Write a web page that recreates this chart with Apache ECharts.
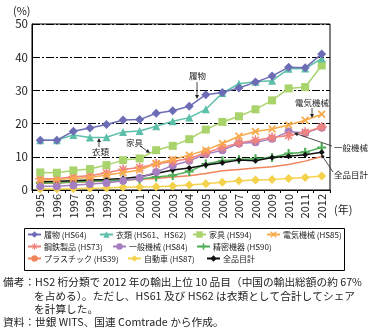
<!DOCTYPE html>
<html><head><meta charset="utf-8">
<script src="https://cdn.jsdelivr.net/npm/echarts@6/dist/echarts.min.js"></script>
<style>html,body{margin:0;padding:0;background:#fff}#c{width:369px;height:330px}</style>
</head><body><div id="c"></div>
<script>
const years = ['1995','1996','1997','1998','1999','2000','2001','2002','2003','2004','2005','2006','2007','2008','2009','2010','2011','2012'];
const footwear   = [15.0,15.0,17.7,18.7,19.7,21.1,21.2,23.1,23.9,25.2,28.7,29.4,30.7,32.5,34.3,37.0,36.8,41.0];
const apparel    = [15.0,15.0,16.6,15.8,15.9,17.5,17.8,19.2,20.7,21.8,24.3,29.2,32.0,32.6,32.9,36.5,36.6,39.6];
const furniture  = [5.3,5.2,5.9,6.3,7.5,9.0,9.5,12.0,13.3,15.3,18.2,20.5,22.2,24.3,27.0,30.6,31.0,37.5];
const electric   = [3.0,3.2,3.5,3.8,4.5,5.2,6.0,8.0,9.2,10.5,12.0,14.0,16.2,17.6,18.4,19.6,21.0,22.8];
const steel      = [3.4,3.4,4.0,4.3,5.2,6.2,6.8,7.8,8.6,9.5,11.2,12.8,14.2,15.0,15.8,16.4,17.4,19.0];
const machinery  = [1.1,1.1,1.4,1.8,2.1,2.8,3.6,5.4,7.4,8.8,10.8,12.0,14.0,14.4,15.4,17.6,17.2,18.8];
const precision  = [2.1,2.2,2.4,2.6,2.8,3.0,3.3,3.9,4.4,5.6,7.8,8.8,9.2,9.4,9.8,11.0,11.4,12.8];
const plastics   = [2.0,2.1,2.3,2.5,2.7,2.9,3.2,3.5,3.9,4.3,5.0,5.8,6.2,6.6,7.0,7.7,8.7,10.1];
const autos      = [0.3,0.3,0.4,0.5,0.6,0.8,0.9,1.0,1.2,1.5,1.9,2.3,2.8,3.0,3.2,3.5,3.8,4.2];
const total      = [2.5,2.6,2.8,3.0,3.2,3.5,4.0,5.0,6.0,6.6,7.5,8.2,9.0,8.8,9.8,10.2,10.6,11.4];
const yTicks = [0,10,20,30,40,50];
const names = ['履物 (HS64)','衣類 (HS61、HS62)','家具 (HS94)','電気機械 (HS85)','鋼鉄製品 (HS73)','一般機械 (HS84)','精密機器 (HS90)','プラスチック (HS39)','自動車 (HS87)','全品目計'];

const FONT = '"Noto Sans CJK JP", "Noto Sans", sans-serif';
const SYM_X = 'path://M0,1.5L1.5,0L5,3.5L8.5,0L10,1.5L6.5,5L10,8.5L8.5,10L5,6.5L1.5,10L0,8.5L3.5,5Z';
const SYM_PLUS = 'path://M3.8,0H6.2V3.8H10V6.2H6.2V10H3.8V6.2H0V3.8H3.8Z';
const SYM_AST = 'path://M4.2,0H5.8V10H4.2Z M0,4.2H10V5.8H0Z M1,2.1L2.1,1L9,7.9L7.9,9Z M7.9,1L9,2.1L2.1,9L1,7.9Z';

function mk(name, data, color, symbol, size, z) {
  return {
    name, type: 'line', data, symbol, symbolSize: size, showSymbol: symbol !== 'none',
    z: z || 2,
    lineStyle: {color, width: 1.5},
    itemStyle: {color},
    emphasis: {disabled: true}, animation: false
  };
}
const series = [
  mk(names[7], plastics, '#f0845a', 'none', 0, 2),
  mk(names[8], autos, '#f5d24e', 'diamond', 9, 3),
  mk(names[6], precision, '#4fae57', SYM_PLUS, 9, 4),
  mk(names[9], total, '#111111', 'diamond', 6, 5),
  mk(names[5], machinery, '#a47ec0', 'circle', 8, 6),
  mk(names[4], steel, '#f2847e', SYM_AST, 10, 7),
  mk(names[3], electric, '#f7aa4a', SYM_X, 8, 8),
  mk(names[2], furniture, '#a9d36b', 'rect', 8, 9),
  mk(names[1], apparel, '#5cbfa9', 'triangle', 8, 10),
  mk(names[0], footwear, '#6d6db6', 'diamond', 9, 11)
];

const legPos = [
  [27,230.5],[99,230.5],[192,230.5],[266,230.5],
  [27,242.5],[112,242.5],[196,242.5],
  [27,254.5],[127,254.5],[206,254.5]
];
const legends = names.map((n,i)=>({
  data:[n], left: legPos[i][0], top: legPos[i][1], padding:0,
  itemWidth: 13, itemHeight: 8, itemGap: 0,
  textStyle:{fontSize:8, fontFamily:FONT, color:'#222', padding:[0,0,0,-2]},
  selectedMode:false
}));

function arrow(x1,y1,x2,y2){
  const a = Math.atan2(y2-y1,x2-x1), L=4, W=2;
  const bx = x2 - L*Math.cos(a), by = y2 - L*Math.sin(a);
  const px = -Math.sin(a)*W, py = Math.cos(a)*W;
  return [
    {type:'line', shape:{x1,y1,x2:bx,y2:by}, style:{stroke:'#222', lineWidth:0.8}, z:20},
    {type:'polygon', shape:{points:[[x2,y2],[bx+px,by+py],[bx-px,by-py]]}, style:{fill:'#222'}, z:20}
  ];
}
function txt(x,y,t,size){
  return {type:'text', x, y, z:20, style:{text:t, fontSize:size, fontFamily:FONT, fill:'#222', textVerticalAlign:'middle'}};
}

const graphics = [
  txt(13,11,'(%)',11),
  txt(334,210,'(年)',11),
  txt(189,76,'履物',8.5),
  ...arrow(197,82,197,99),
  txt(295,103,'電気機械',8.5),
  ...arrow(312,108,312,118),
  txt(92,152,'衣類',8.5),
  ...arrow(99,147,99,138),
  txt(126,143,'家具',8.5),
  ...arrow(140,146,150,153),
  txt(334,148,'一般機械',8.5),
  ...arrow(332,146,294,133),
  txt(334,175,'全品目計',8.5),
  ...arrow(333,172,321,154),
  {type:'rect', shape:{x:24.5,y:228.5,width:320,height:42}, style:{fill:'none', stroke:'#000', lineWidth:1}, z:1},
  txt(3,282,'備考：HS2 桁分類で 2012 年の輸出上位 10 品目（中国の輸出総額の約 67%',10.7),
  txt(34,295.5,'を占める）。ただし、HS61 及び HS62 は衣類として合計してシェア',10.7),
  txt(34,308.5,'を計算した。',10.7),
  txt(3,322,'資料：世銀 WITS、国連 Comtrade から作成。',10.7)
];

const chart = echarts.init(document.getElementById('c'), null, {renderer:'canvas'});
chart.setOption({
  animation:false,
  textStyle:{fontFamily:FONT},
  grid:{left:32, right:39, top:24, bottom:140, show:true, borderColor:'#000', borderWidth:1},
  xAxis:{type:'category', data:years, boundaryGap:true,
    axisLine:{lineStyle:{color:'#000', width:1}},
    axisTick:{show:true, length:3, lineStyle:{color:'#000'}},
    axisLabel:{rotate:90, fontSize:11, color:'#222', margin:4, fontFamily:FONT}},
  yAxis:{type:'value', min:yTicks[0], max:yTicks[yTicks.length-1], interval:10,
    axisLine:{show:true, lineStyle:{color:'#000', width:1}},
    axisTick:{show:false},
    axisLabel:{fontSize:11.5, color:'#222', margin:4, fontFamily:FONT},
    splitLine:{lineStyle:{color:'#000', width:1, type:[8,2,2,2]}}},
  legend: legends,
  series,
  graphic: graphics
});
</script></body></html>
